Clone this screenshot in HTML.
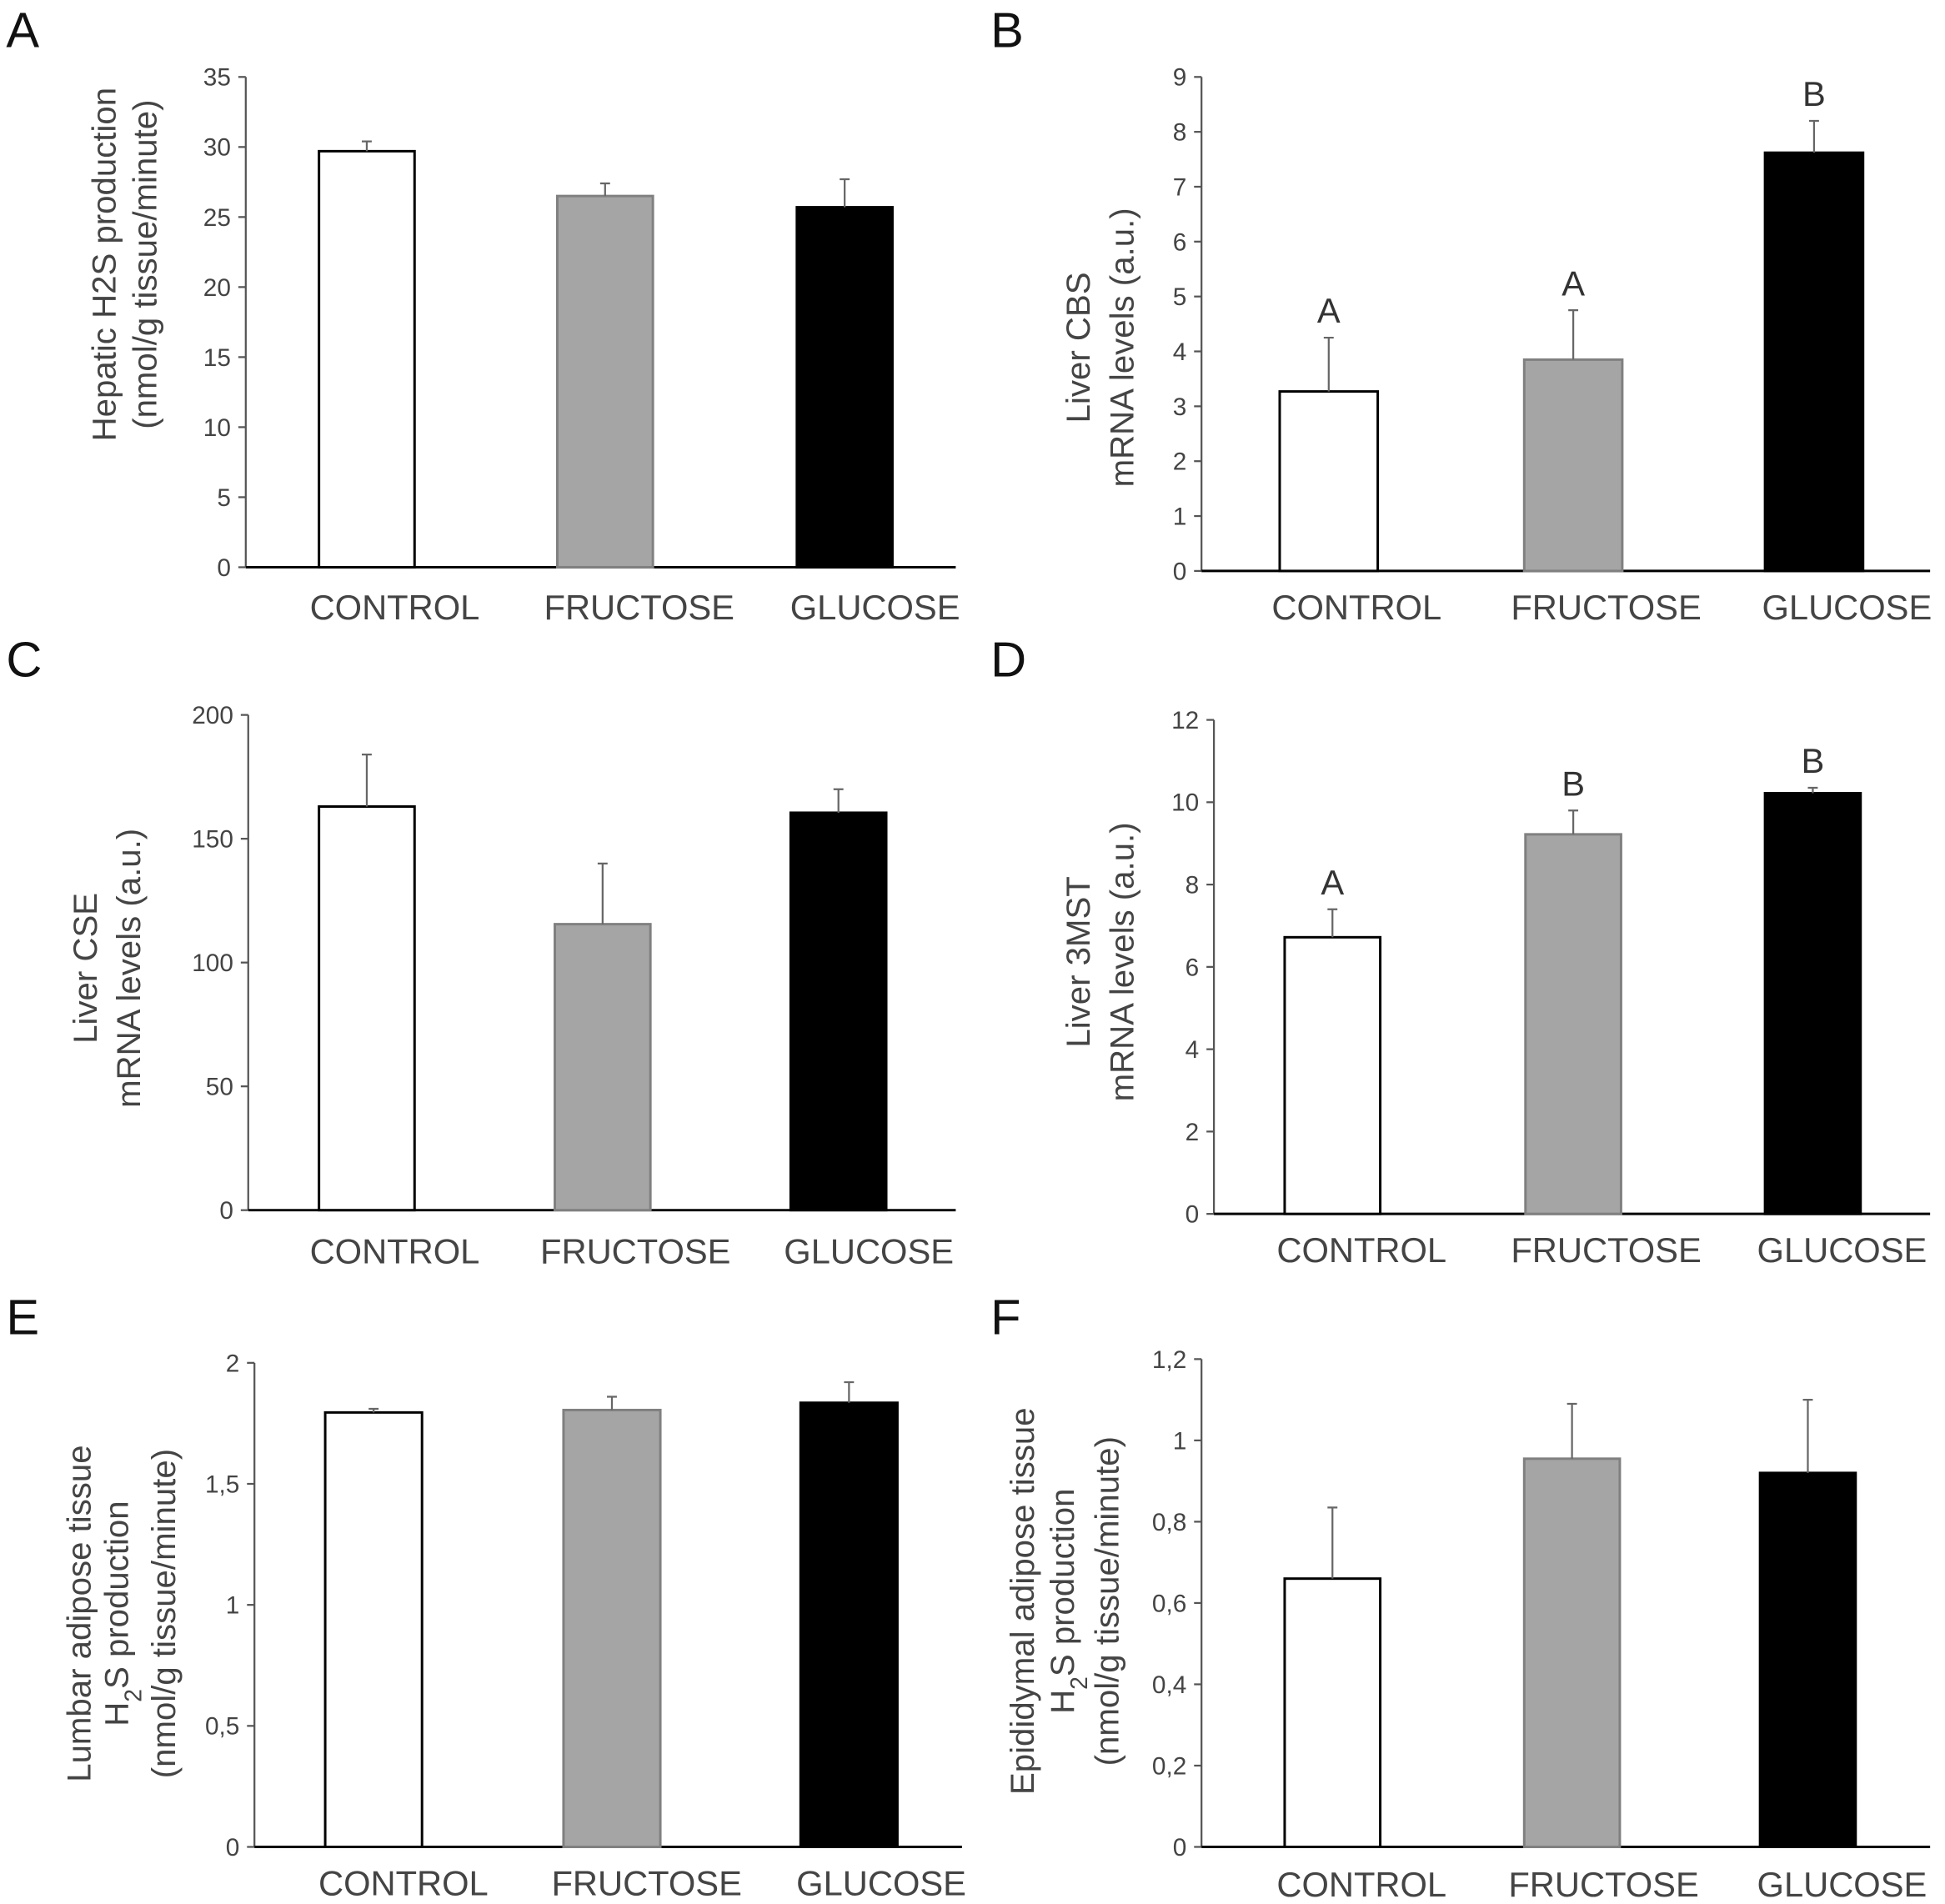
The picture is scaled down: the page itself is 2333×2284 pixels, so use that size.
<!DOCTYPE html>
<html><head><meta charset="utf-8"><style>
html,body{margin:0;padding:0;background:#fff;}
svg{display:block;font-family:"Liberation Sans",Arial,sans-serif;}
</style></head><body>
<svg id="fig" width="2333" height="2284" viewBox="0 0 1567 1534" preserveAspectRatio="none" xmlns="http://www.w3.org/2000/svg"></svg>
<script>
const categories = ["CONTROL","FRUCTOSE","GLUCOSE"];
const valuesA = [29.7, 26.5, 25.7];
const errTopA = [30.4, 27.4, 27.7];
const ticksA = [0,5,10,15,20,25,30,35];
const valuesB = [3.27, 3.85, 7.62];
const errTopB = [4.25, 4.75, 8.2];
const lettersB = ["A","A","B"];
const ticksB = [0,1,2,3,4,5,6,7,8,9];
const valuesC = [163, 115.5, 160.5];
const errTopC = [184, 140, 170];
const ticksC = [0,50,100,150,200];
const valuesD = [6.72, 9.22, 10.22];
const errTopD = [7.4, 9.8, 10.35];
const lettersD = ["A","B","B"];
const ticksD = [0,2,4,6,8,10,12];
const valuesE = [1.795, 1.805, 1.835];
const errTopE = [1.81, 1.86, 1.92];
const ticksE = [0,0.5,1,1.5,2];
const valuesF = [0.66, 0.955, 0.92];
const errTopF = [0.835, 1.09, 1.1];
const ticksF = [0,0.2,0.4,0.6,0.8,1,1.2];

const NS="http://www.w3.org/2000/svg";
const svg=document.getElementById('fig');
function mk(tag,attrs,parent){const e=document.createElementNS(NS,tag);for(const k in attrs)e.setAttribute(k,attrs[k]);(parent||svg).appendChild(e);return e;}
const fills=["#ffffff","#a5a5a5","#000000"];
const strokes=["#000000","#808080","#000000"];
function fmt(v,comma){let s=String(Math.round(v*100)/100);return comma?s.replace('.',','):s;}

function panel(p){
  const g=mk('g',{});
  
  
  const lt=mk('text',{x:p.lx,y:p.ly,'font-size':40,fill:'#111'},g);lt.textContent=p.id;
  
  
  const max=p.ticks[p.ticks.length-1];
  const ys=v=>p.y0-(v/max)*(p.y0-p.yTop);
  const ax=mk('line',{x1:p.ax,y1:p.yTop,x2:p.ax,y2:p.y0,stroke:'#555','stroke-width':1.5},g);
  
  
  const xl=mk('line',{x1:p.ax,y1:p.y0,x2:p.xEnd,y2:p.y0,stroke:'#000','stroke-width':2},g);
  
  
  p.ticks.forEach(t=>{
    const y=ys(t);
    mk('line',{x1:p.ax-6,y1:y,x2:p.ax,y2:y,stroke:'#555','stroke-width':1.5},g);
    const tx=mk('text',{x:p.ax-12,y:y+7,'font-size':20,fill:'#444','text-anchor':'end'},g);
    tx.textContent=fmt(t,p.comma);
    
    
  });
  p.values.forEach((v,i)=>{
    const x=p.bx[i], w=p.bw;
    const yt=ys(v);
    const r=mk('rect',{x:x,y:yt,width:w,height:p.y0-yt,fill:fills[i],stroke:strokes[i],'stroke-width':2},g);
    
    
    const cx=x+w/2, ye=ys(p.err[i]);
    const el=mk('path',{d:`M${cx},${yt}V${ye}M${cx-4},${ye}H${cx+4}`,stroke:'#666','stroke-width':1.5,fill:'none'},g);
    
    
    const lb=mk('text',{x:p.lc[i],y:p.labY,'font-size':28,fill:'#444','text-anchor':'middle'},g);
    lb.textContent=categories[i];
    
    
    if(p.letters){
      const s=mk('text',{x:cx+(p.letterDx||0),y:ye-12,'font-size':28,fill:'#333','text-anchor':'middle'},g);
      s.textContent=p.letters[i];
      
      
    }
  });
  p.ylab.forEach((ln,j)=>{
    const t=mk('text',{transform:`translate(${p.ylx[j]},${p.lyc}) rotate(-90)`,'font-size':27,fill:'#444','text-anchor':'middle'},g);
    t.innerHTML=ln;
    
    
  });
}
panel({id:'A',lx:5,ly:38,values:valuesA,err:errTopA,ticks:ticksA,ax:198,yTop:62,y0:457,xEnd:770,bx:[257,449,642],bw:77,lc:[318,515,705],labY:499,ylab:['Hepatic H2S production','(nmol/g tissue/minute)'],ylx:[93,126],lyc:213});
panel({id:'B',lx:798,ly:38,values:valuesB,err:errTopB,ticks:ticksB,ax:968,yTop:62,y0:460,xEnd:1555,bx:[1031,1228,1422],bw:79,lc:[1093,1294,1488],labY:499,letters:lettersB,ylab:['Liver CBS','mRNA levels (a.u.)'],ylx:[878,913],lyc:280});
panel({id:'C',lx:5,ly:545,values:valuesC,err:errTopC,ticks:ticksC,ax:200,yTop:576,y0:975,xEnd:770,bx:[257,447,637],bw:77,lc:[318,512,700],labY:1018,ylab:['Liver CSE','mRNA levels (a.u.)'],ylx:[78,113],lyc:780});
panel({id:'D',lx:798,ly:545,values:valuesD,err:errTopD,ticks:ticksD,ax:978,yTop:580,y0:978,xEnd:1555,bx:[1035,1229,1422],bw:77,lc:[1097,1294,1484],labY:1017,letters:lettersD,ylab:['Liver 3MST','mRNA levels (a.u.)'],ylx:[878,913],lyc:775});
panel({id:'E',lx:5,ly:1075,values:valuesE,err:errTopE,ticks:ticksE,ax:205,yTop:1098,y0:1488,xEnd:775,bx:[262,454,645],bw:78,lc:[325,521,710],labY:1527,comma:true,ylab:['Lumbar adipose tissue','H<tspan baseline-shift="sub" font-size="19">2</tspan>S production','(nmol/g tissue/minute)'],ylx:[73,103,141],lyc:1300});
panel({id:'F',lx:798,ly:1075,values:valuesF,err:errTopF,ticks:ticksF,ax:968,yTop:1095,y0:1488,xEnd:1555,bx:[1035,1228,1418],bw:77,lc:[1097,1292,1484],labY:1528,comma:true,ylab:['Epididymal  adipose tissue','H<tspan baseline-shift="sub" font-size="19">2</tspan>S production','(nmol/g tissue/minute)'],ylx:[833,865,901],lyc:1290});
</script>
</body></html>
